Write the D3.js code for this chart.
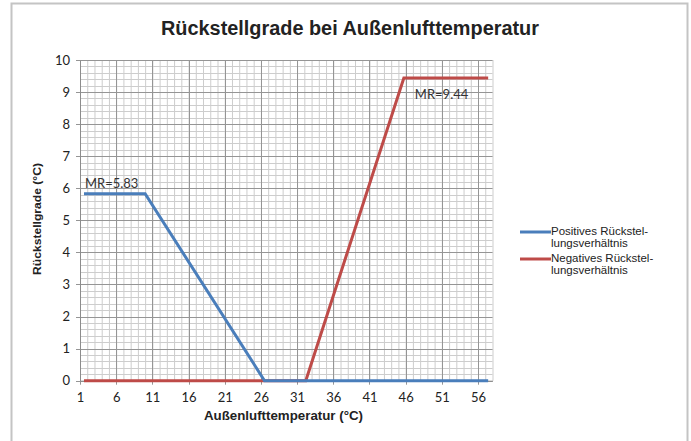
<!DOCTYPE html>
<html>
<head>
<meta charset="utf-8">
<script src="https://cdn.jsdelivr.net/npm/d3@7"></script>
<style>
  body { margin: 0; background: #fff; }
  svg { display: block; }
</style>
</head>
<body>
<div id="chart"></div>
<script>
// Werte
const xTicks = [1, 6, 11, 16, 21, 26, 31, 36, 41, 46, 51, 56];
const yTicks = [0, 1, 2, 3, 4, 5, 6, 7, 8, 9, 10];

const posX = [1.55, 10, 26.5, 57.4];
const posY = [5.83, 5.83, 0, 0];
const negX = [1.55, 32.2, 45.75, 57.4];
const negY = [0, 0, 9.44, 9.44];

const seriesNames = ["Positives Rückstel-|lungsverhältnis", "Negatives Rückstel-|lungsverhältnis"];
const seriesColors = ["#4a7ebb", "#be4b48"];

const W = 691, H = 441;

const svg = d3.select("#chart").append("svg")
  .attr("width", W)
  .attr("height", H);

// Rahmen
svg.append("rect")
  .attr("x", 11.5).attr("y", 3.5)
  .attr("width", 676).attr("height", 445)
  .attr("fill", "#fff")
  .attr("stroke", "#c4c4c4")
  .attr("stroke-width", 2);

const x = d3.scaleLinear().domain([1, 58]).range([80, 492.5]);
const y = d3.scaleLinear().domain([0, 10]).range([380.7, 60]);

const grid = svg.append("g");

// minor gridlines
grid.selectAll(".vmin")
  .data(d3.range(1, 59))
  .enter().append("line")
  .attr("x1", d => x(d) + 0.5).attr("x2", d => x(d) + 0.5)
  .attr("y1", y(10)).attr("y2", y(0))
  .attr("stroke", "#cdcdcd").attr("stroke-width", 1);

grid.selectAll(".hmin")
  .data(d3.range(0, 51).map(i => i / 5))
  .enter().append("line")
  .attr("x1", x(1)).attr("x2", x(58))
  .attr("y1", d => Math.round(y(d)) + 0.5).attr("y2", d => Math.round(y(d)) + 0.5)
  .attr("stroke", "#cdcdcd").attr("stroke-width", 1);

// major gridlines
grid.selectAll(".vmaj")
  .data(xTicks)
  .enter().append("line")
  .attr("x1", d => Math.round(x(d)) + 0.5).attr("x2", d => Math.round(x(d)) + 0.5)
  .attr("y1", y(10)).attr("y2", y(0) + 4)
  .attr("stroke", "#959595").attr("stroke-width", 1);

grid.selectAll(".hmaj")
  .data(yTicks)
  .enter().append("line")
  .attr("x1", x(1) - 4).attr("x2", x(58))
  .attr("y1", d => Math.round(y(d)) + 0.5).attr("y2", d => Math.round(y(d)) + 0.5)
  .attr("stroke", "#959595").attr("stroke-width", 1);

// Achsen
const xAxis = svg.append("g")
  .attr("transform", `translate(0,${y(0)})`)
  .call(d3.axisBottom(x).tickValues(xTicks).tickSize(0).tickPadding(12));
const yAxis = svg.append("g")
  .attr("transform", `translate(${x(1)},0)`)
  .call(d3.axisLeft(y).tickValues(yTicks).tickSize(0).tickPadding(10));

[xAxis, yAxis].forEach(a => {
  a.select(".domain").attr("stroke", "#8c8c8c");
  a.selectAll("text")
    .attr("font-family", "Lato, 'Open Sans', sans-serif")
    .attr("font-size", 13)
    .attr("fill", "#222");
});

// Linien
const line = d3.line().x(d => x(d[0])).y(d => y(d[1]));
const posData = posX.map((v, i) => [v, posY[i]]);
const negData = negX.map((v, i) => [v, negY[i]]);

svg.append("path")
  .datum(negData)
  .attr("d", line)
  .attr("fill", "none")
  .attr("stroke", seriesColors[1])
  .attr("stroke-width", 3);

svg.append("path")
  .datum(posData)
  .attr("d", line)
  .attr("fill", "none")
  .attr("stroke", seriesColors[0])
  .attr("stroke-width", 3);

// Beschriftungen MR
svg.append("text")
  .attr("x", x(posX[0]) + 1).attr("y", y(posY[0]) - 6)
  .attr("font-family", "Lato, 'Open Sans', sans-serif")
  .attr("font-size", 13).attr("fill", "#333")
  .text("MR=" + posY[0]);

svg.append("text")
  .attr("x", x(negX[2]) + 11).attr("y", y(negY[2]) + 21)
  .attr("font-family", "Lato, 'Open Sans', sans-serif")
  .attr("font-size", 13).attr("fill", "#333")
  .text("MR=" + negY[2]);

// Titel
svg.append("text")
  .attr("x", 350).attr("y", 35)
  .attr("text-anchor", "middle")
  .attr("font-family", "'Liberation Sans', Arial, sans-serif")
  .attr("font-weight", "bold")
  .attr("font-size", 20)
  .attr("textLength", 378)
  .attr("lengthAdjust", "spacingAndGlyphs")
  .attr("fill", "#222")
  .text("Rückstellgrade bei Außenlufttemperatur");

// Achsentitel
svg.append("text")
  .attr("x", 283.5).attr("y", 420)
  .attr("text-anchor", "middle")
  .attr("font-family", "'Liberation Sans', Arial, sans-serif")
  .attr("font-weight", "bold")
  .attr("font-size", 12.5)
  .attr("textLength", 159)
  .attr("lengthAdjust", "spacingAndGlyphs")
  .attr("fill", "#222")
  .text("Außenlufttemperatur (°C)");

svg.append("text")
  .attr("transform", "translate(41,219) rotate(-90)")
  .attr("text-anchor", "middle")
  .attr("font-family", "'Liberation Sans', Arial, sans-serif")
  .attr("font-weight", "bold")
  .attr("font-size", 11.5)
  .attr("textLength", 112)
  .attr("lengthAdjust", "spacingAndGlyphs")
  .attr("fill", "#222")
  .text("Rückstellgrade (°C)");

// Legende
const legend = svg.append("g").attr("transform", "translate(520,232)");
seriesNames.forEach((name, i) => {
  const g = legend.append("g").attr("transform", `translate(0,${i * 27})`);
  g.append("line")
    .attr("x1", 0).attr("x2", 31).attr("y1", 0).attr("y2", 0)
    .attr("stroke", seriesColors[i]).attr("stroke-width", 3);
  name.split("|").forEach((part, j) => {
    g.append("text")
      .attr("x", 31).attr("y", 3 + j * 12)
      .attr("font-family", "'Liberation Sans', Arial, sans-serif")
      .attr("font-size", 11.5)
      .attr("fill", "#222")
      .text(part);
  });
});
</script>
</body>
</html>
